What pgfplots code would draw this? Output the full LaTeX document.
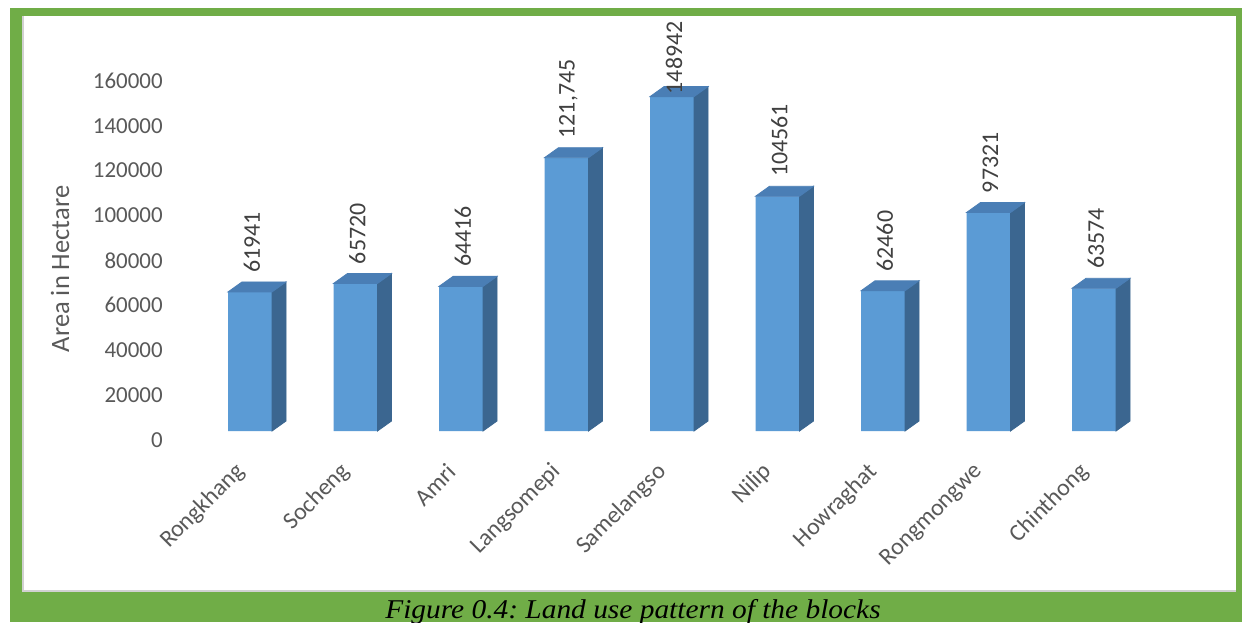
\documentclass[border=0pt]{standalone}
\usepackage{pgfplots}
\pgfplotsset{compat=1.18}
\usepackage{pgfplotstable}
\usepackage{fontspec}
\setmainfont{Carlito}
\newfontfamily\capfont{Liberation Serif}

\definecolor{framegreen}{HTML}{70AD47}
\definecolor{barfront}{HTML}{5B9BD5}
\definecolor{bartop}{HTML}{4A7EB5}
\definecolor{barside}{HTML}{3B6690}
\definecolor{ticktext}{HTML}{595959}
\definecolor{valtext}{HTML}{404040}

% area of each block (hectare); lab = printed label, lsh = label lift above the bar (bp)
\pgfplotstableread{
x v      lab       lsh
0 61941  61941     9.5
1 65720  65720     9.5
2 64416  64416     9.5
3 121745 {121,745} 9.5
4 148942 148942    1
5 104561 104561    9.5
6 62460  62460     9.5
7 97321  97321     9.5
8 63574  63574     9.5
}\blockarea

\begin{document}
\frenchspacing
\begin{tikzpicture}[x=1bp,y=1bp]
\useasboundingbox (0,0) rectangle (621,311);
\fill[white] (0,0) rectangle (621,311);
\fill[framegreen] (5,0) rectangle (621,307);
\fill[white] (11,15) rectangle (618,303);
\draw[black!18, line width=1bp] (11.5,15) -- (11.5,303);
\draw[black!18, line width=1bp] (11,15.5) -- (618,15.5);
\coordinate (axisorigin) at (98.625,95.5);

\begin{axis}[
  at={(axisorigin)}, anchor=south west,
  scale only axis, width=474.75bp, height=190.825bp,
  xmin=-0.5, xmax=8.5, ymin=0, ymax=170000,
  clip=false,
  axis line style={draw=none},
  major tick length=0pt, tick style={draw=none},
  xtick={0,...,8},
  xticklabels={Rongkhang,Socheng,Amri,Langsomepi,Samelangso,Nilip,Howraghat,Rongmongwe,Chinthong},
  ytick={0,20000,40000,60000,80000,100000,120000,140000,160000},
  yticklabels={0,20000,40000,60000,80000,100000,120000,140000,160000},
  scaled y ticks=false,
  tick label style={font=\fontsize{11.5}{13}\selectfont, text=ticktext},
  yticklabel style={anchor=east, inner sep=0pt, xshift=-17.1bp, yshift=-4.5bp},
  xticklabel style={anchor=east, inner sep=0pt, xshift=-4.5bp, yshift=-18.5bp, rotate=45,
    font=\fontsize{12}{14}\selectfont},
]
% top and side faces of each block, drawn from the bar's top front edge;
% meta is mapped 0..1000 over 0..170000, i.e. over the 190.825bp axis height
\addplot[scatter, only marks, mark=text, text mark={},
  point meta=explicit, point meta min=0, point meta max=170000,
  scatter/@pre marker code/.code={%
    \edef\sidebot{\fpeval{5-\pgfplotspointmetatransformed*0.190825}}%
    \edef\frontbot{\fpeval{-\pgfplotspointmetatransformed*0.190825}}%
    \fill[barside] (11bp,0bp) -- (18bp,5bp) -- (18bp,\sidebot bp) -- (11bp,\frontbot bp) -- cycle;
    \fill[bartop] (-11bp,0bp) -- (-4bp,5bp) -- (18bp,5bp) -- (11bp,0bp) -- cycle;
    \scope},
  scatter/@post marker code/.code={\endscope},
] table[x=x, y=v, meta=v] {\blockarea};
% front faces
\addplot[ybar, bar width=22bp, fill=barfront, draw=none] table[x=x, y=v] {\blockarea};
% value labels
\addplot[draw=none, nodes near coords={\pgfplotspointmeta}, point meta=explicit symbolic,
  visualization depends on={\thisrow{lsh} \as \lsh},
  every node near coord/.append style={xshift=1bp, yshift=\lsh bp, rotate=90,
    anchor=west, inner sep=0pt, font=\fontsize{12}{14}\selectfont, text=valtext},
] table[x=x, y=v, meta=lab] {\blockarea};
\end{axis}

\node[rotate=90, font=\fontsize{13.3}{15}\selectfont, text=ticktext] at (30,176.5) {Area in Hectare};
\node[anchor=base, font=\capfont\itshape\fontsize{13.6}{16}\selectfont] at (316.5,2) {\scalebox{1.085}[1]{Figure 0.4: Land use pattern of the blocks}};
\end{tikzpicture}
\end{document}
